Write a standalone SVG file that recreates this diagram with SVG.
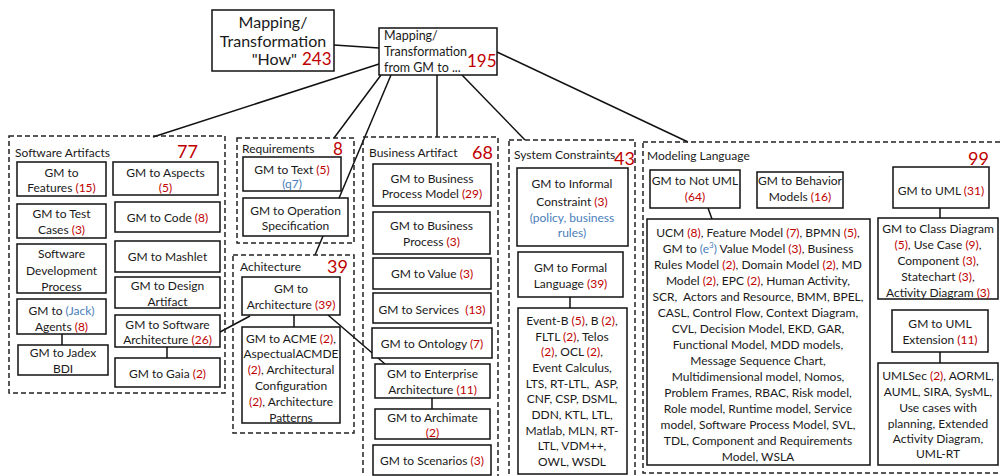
<svg xmlns="http://www.w3.org/2000/svg" width="1000" height="476" viewBox="0 0 1000 476">
<style>
.box{fill:#fff;stroke:#111;stroke-width:1.5}
.grp{fill:none;stroke:#222;stroke-width:1.5;stroke-dasharray:5 3}
text{font-family:Lato,"Open Sans","Liberation Sans",sans-serif;font-size:12px;fill:#1a1a1a}
.m{text-anchor:middle}
.r{fill:#c00000}
.b{fill:#4a7ebb}
.num{font-size:17px;fill:#c00000}
.big{font-size:16px}
.mid{font-size:12.5px}
.c{stroke:#111;stroke-width:1.5;fill:none}
</style>
<rect width="1000" height="476" fill="#fff"/>

<g id="connectors">
<line class="c" x1="334" y1="45" x2="379" y2="48"/>
<line class="c" x1="379" y1="64" x2="153" y2="137"/>
<line class="c" x1="381" y1="75" x2="334" y2="138"/>
<line class="c" x1="391" y1="75" x2="315" y2="255"/>
<line class="c" x1="437" y1="75" x2="437" y2="137"/>
<line class="c" x1="462" y1="75" x2="525" y2="140"/>
<line class="c" x1="497" y1="52" x2="688" y2="142"/>
<line class="c" x1="62" y1="334" x2="62" y2="345"/>
<line class="c" x1="167" y1="347" x2="167" y2="358"/>
<line class="c" x1="220" y1="332" x2="250" y2="316"/>
<line class="c" x1="294" y1="315" x2="294" y2="327"/>
<line class="c" x1="328" y1="315" x2="385" y2="364"/>
<line class="c" x1="432" y1="398" x2="432" y2="409"/>
<line class="c" x1="570" y1="297" x2="570" y2="308"/>
<line class="c" x1="708" y1="208" x2="712" y2="219"/>
<line class="c" x1="940" y1="208" x2="940" y2="218"/>
<line class="c" x1="940" y1="352" x2="940" y2="363"/>
</g>

<g id="root-how">
<rect class="box" x="212" y="10" width="122" height="61"/>
<text class="m big" x="273" y="28">Mapping/</text>
<text class="m big" x="273" y="47">Transformation</text>
<text class="big" x="297" y="65" text-anchor="end">"How"</text>
<text class="num" x="302" y="65">243</text>
</g>

<g id="root-from">
<rect class="box" x="379" y="28" width="118" height="47"/>
<text class="mid" x="384" y="40">Mapping/</text>
<text class="mid" x="384" y="56">Transformation</text>
<text class="mid" x="384" y="72">from GM to ...</text>
<text class="num" x="467" y="67">195</text>
</g>

<g id="software-artifacts">
<rect class="grp" x="9" y="136" width="216" height="257"/>
<text x="15" y="157">Software Artifacts</text>
<text class="num" x="177" y="158" style="font-size:18px">77</text>
</g>
<g id="sa-features"><rect class="box" x="17" y="162" width="89" height="34"/>
<text class="m" x="61.5" y="177">GM to</text><text class="m" x="61.5" y="192">Features <tspan class="r">(15)</tspan></text></g>
<g id="sa-aspects"><rect class="box" x="113" y="162" width="105" height="33"/>
<text class="m" x="165.5" y="177">GM to Aspects</text><text class="m r" x="165.5" y="192">(5)</text></g>
<g id="sa-testcases"><rect class="box" x="17" y="204" width="89" height="34"/>
<text class="m" x="61.5" y="218">GM to Test</text><text class="m" x="61.5" y="234">Cases <tspan class="r">(3)</tspan></text></g>
<g id="sa-code"><rect class="box" x="115" y="202" width="105" height="30"/>
<text class="m" x="167.5" y="222">GM to Code <tspan class="r">(8)</tspan></text></g>
<g id="sa-sdp"><rect class="box" x="17" y="244" width="89" height="49"/>
<text class="m" x="61.5" y="258">Software</text><text class="m" x="61.5" y="275">Development</text><text class="m" x="61.5" y="291">Process</text></g>
<g id="sa-mashlet"><rect class="box" x="115" y="241" width="105" height="31"/>
<text class="m" x="167.5" y="261">GM to Mashlet</text></g>
<g id="sa-agents"><rect class="box" x="17" y="299" width="89" height="35"/>
<text class="m" x="61.5" y="315">GM to <tspan class="b">(Jack)</tspan></text><text class="m" x="61.5" y="331">Agents <tspan class="r">(8)</tspan></text></g>
<g id="sa-jadex"><rect class="box" x="18" y="345" width="90" height="30"/>
<text class="m" x="63" y="357">GM to Jadex</text><text class="m" x="63" y="373">BDI</text></g>
<g id="sa-design"><rect class="box" x="115" y="277" width="105" height="31"/>
<text class="m" x="167.5" y="290">GM to Design</text><text class="m" x="167.5" y="306">Artifact</text></g>
<g id="sa-swarch"><rect class="box" x="115" y="315" width="105" height="32"/>
<text class="m" x="167.5" y="329">GM to Software</text><text class="m" x="167.5" y="344">Architecture <tspan class="r">(26)</tspan></text></g>
<g id="sa-gaia"><rect class="box" x="115" y="358" width="105" height="29"/>
<text class="m" x="167.5" y="378">GM to Gaia <tspan class="r">(2)</tspan></text></g>

<g id="requirements">
<rect class="grp" x="237" y="138" width="117" height="105"/>
<text x="242" y="153">Requirements</text>
<text class="num" x="333" y="155">8</text>
</g>
<g id="rq-text"><rect class="box" x="243" y="157" width="98" height="34"/>
<text class="m" x="292" y="174">GM to Text <tspan class="r">(5)</tspan></text><text class="m b" x="292" y="188">(q7)</text></g>
<g id="rq-opspec"><rect class="box" x="243" y="198" width="105" height="38"/>
<text class="m" x="295.5" y="215">GM to Operation</text><text class="m" x="295.5" y="230">Specification</text></g>

<g id="architecture">
<rect class="grp" x="233" y="255" width="121" height="178"/>
<text x="240" y="271">Achitecture</text>
<text class="num" x="327" y="273" style="font-size:18px">39</text>
</g>
<g id="ar-arch"><rect class="box" x="242" y="277" width="98" height="38"/>
<text class="m" x="291" y="293">GM to</text><text class="m" x="291" y="309">Architecture <tspan class="r">(39)</tspan></text></g>
<g id="ar-acme"><rect class="box" x="242" y="327" width="98" height="96"/>
<text class="m" x="291" y="343">GM to ACME <tspan class="r">(2)</tspan>,</text>
<text class="m" x="291" y="358">AspectualACMDE</text>
<text class="m" x="291" y="374"><tspan class="r">(2)</tspan>, Architectural</text>
<text class="m" x="291" y="390">Configuration</text>
<text class="m" x="291" y="406"><tspan class="r">(2)</tspan>, Architecture</text>
<text class="m" x="291" y="422">Patterns</text></g>

<g id="business-artifact">
<rect class="grp" x="363" y="137" width="135" height="345"/>
<text x="369" y="157">Business Artifact</text>
<text class="num" x="472" y="159" style="font-size:18px">68</text>
</g>
<g id="ba-bpm"><rect class="box" x="373" y="164" width="118" height="42"/>
<text class="m" x="432" y="183">GM to Business</text><text class="m" x="432" y="198">Process Model <tspan class="r">(29)</tspan></text></g>
<g id="ba-bp"><rect class="box" x="373" y="212" width="117" height="42"/>
<text class="m" x="431.5" y="230">GM to Business</text><text class="m" x="431.5" y="246">Process <tspan class="r">(3)</tspan></text></g>
<g id="ba-value"><rect class="box" x="373" y="258" width="118" height="31"/>
<text class="m" x="432" y="278">GM to Value <tspan class="r">(3)</tspan></text></g>
<g id="ba-services"><rect class="box" x="373" y="293" width="118" height="30"/>
<text class="m" x="432" y="314" xml:space="preserve">GM to Services  <tspan class="r">(13)</tspan></text></g>
<g id="ba-ontology"><rect class="box" x="372" y="328" width="120" height="30"/>
<text class="m" x="432" y="348">GM to Ontology <tspan class="r">(7)</tspan></text></g>
<g id="ba-enterprise"><rect class="box" x="375" y="364" width="115" height="34"/>
<text class="m" x="432.5" y="378">GM to Enterprise</text><text class="m" x="432.5" y="394">Architecture <tspan class="r">(11)</tspan></text></g>
<g id="ba-archimate"><rect class="box" x="375" y="409" width="115" height="30"/>
<text class="m" x="432.5" y="422">GM to Archimate</text><text class="m r" x="432.5" y="437">(2)</text></g>
<g id="ba-scenarios"><rect class="box" x="373" y="445" width="118" height="30"/>
<text class="m" x="432" y="465">GM to Scenarios <tspan class="r">(3)</tspan></text></g>

<g id="system-constraints">
<rect class="grp" x="509" y="140" width="126" height="345"/>
<text x="514" y="159">System Constraints</text>
<text class="num" x="614" y="165" style="font-size:18px">43</text>
</g>
<g id="sc-informal"><rect class="box" x="517" y="168" width="111" height="78"/>
<text class="m" x="572" y="188">GM to Informal</text>
<text class="m" x="572" y="206">Constraint <tspan class="r">(3)</tspan></text>
<text class="m b" x="572" y="222">(policy, business</text>
<text class="m b" x="572" y="237">rules)</text></g>
<g id="sc-formal"><rect class="box" x="518" y="252" width="105" height="45"/>
<text class="m" x="570.5" y="272">GM to Formal</text><text class="m" x="570.5" y="288">Language <tspan class="r">(39)</tspan></text></g>
<g id="sc-list"><rect class="box" x="518" y="308" width="109" height="166"/>
<text class="m" x="572" y="325">Event-B <tspan class="r">(5)</tspan>, B <tspan class="r">(2)</tspan>,</text>
<text class="m" x="572" y="341">FLTL <tspan class="r">(2)</tspan>, Telos</text>
<text class="m" x="572" y="356"><tspan class="r">(2)</tspan>, OCL <tspan class="r">(2)</tspan>,</text>
<text class="m" x="572" y="372">Event Calculus,</text>
<text class="m" x="572" y="388" xml:space="preserve">LTS, RT-LTL,  ASP,</text>
<text class="m" x="572" y="403">CNF, CSP, DSML,</text>
<text class="m" x="572" y="419">DDN, KTL, LTL,</text>
<text class="m" x="572" y="435">Matlab, MLN, RT-</text>
<text class="m" x="572" y="450">LTL, VDM++,</text>
<text class="m" x="572" y="466">OWL, WSDL</text></g>

<g id="modeling-language">
<rect class="grp" x="643" y="142" width="360" height="331"/>
<text x="647" y="160">Modeling Language</text>
<text class="num" x="968" y="165" style="font-size:18px">99</text>
</g>
<g id="ml-notuml"><rect class="box" x="650" y="170" width="90" height="38"/>
<text class="m" x="695" y="185">GM to Not UML</text><text class="m r" x="695" y="201">(64)</text></g>
<g id="ml-behavior"><rect class="box" x="757" y="172" width="86" height="36"/>
<text class="m" x="800" y="185">GM to Behavior</text><text class="m" x="800" y="201">Models <tspan class="r">(16)</tspan></text></g>
<g id="ml-list"><rect class="box" x="647" y="219" width="223" height="246"/>
<text class="m" x="758" y="237">UCM <tspan class="r">(8)</tspan>, Feature Model <tspan class="r">(7)</tspan>, BPMN <tspan class="r">(5)</tspan>,</text>
<text class="m" x="758" y="253">GM to <tspan class="b">(e<tspan font-size="8" dy="-5">3</tspan><tspan dy="5">)</tspan></tspan> Value Model <tspan class="r">(3)</tspan>, Business</text>
<text class="m" x="758" y="269">Rules Model <tspan class="r">(2)</tspan>, Domain Model <tspan class="r">(2)</tspan>, MD</text>
<text class="m" x="758" y="285">Model <tspan class="r">(2)</tspan>, EPC <tspan class="r">(2)</tspan>, Human Activity,</text>
<text class="m" x="758" y="301" xml:space="preserve">SCR,  Actors and Resource, BMM, BPEL,</text>
<text class="m" x="758" y="317">CASL, Control Flow, Context Diagram,</text>
<text class="m" x="758" y="333">CVL, Decision Model, EKD, GAR,</text>
<text class="m" x="758" y="349">Functional Model, MDD models,</text>
<text class="m" x="758" y="365">Message Sequence Chart,</text>
<text class="m" x="758" y="381">Multidimensional model, Nomos,</text>
<text class="m" x="758" y="397">Problem Frames, RBAC, Risk model,</text>
<text class="m" x="758" y="413">Role model, Runtime model, Service</text>
<text class="m" x="758" y="429">model, Software Process Model, SVL,</text>
<text class="m" x="758" y="445">TDL, Component and Requirements</text>
<text class="m" x="758" y="461">Model, WSLA</text></g>
<g id="ml-uml"><rect class="box" x="893" y="167" width="96" height="41"/>
<text class="m" x="941" y="195">GM to UML <tspan class="r">(31)</tspan></text></g>
<g id="ml-classdiag"><rect class="box" x="878" y="218" width="120" height="81"/>
<text class="m" x="938" y="233">GM to Class Diagram</text>
<text class="m" x="938" y="249"><tspan class="r">(5)</tspan>, Use Case <tspan class="r">(9)</tspan>,</text>
<text class="m" x="938" y="265">Component <tspan class="r">(3)</tspan>,</text>
<text class="m" x="938" y="281">Statechart <tspan class="r">(3)</tspan>,</text>
<text class="m" x="938" y="297">Activity Diagram <tspan class="r">(3)</tspan></text></g>
<g id="ml-umlext"><rect class="box" x="892" y="310" width="96" height="42"/>
<text class="m" x="940" y="328">GM to UML</text><text class="m" x="940" y="344">Extension <tspan class="r">(11)</tspan></text></g>
<g id="ml-umlsec"><rect class="box" x="878" y="363" width="120" height="102"/>
<text class="m" x="938" y="380">UMLSec <tspan class="r">(2)</tspan>, AORML,</text>
<text class="m" x="938" y="396">AUML, SIRA, SysML,</text>
<text class="m" x="938" y="412">Use cases with</text>
<text class="m" x="938" y="428">planning, Extended</text>
<text class="m" x="938" y="443">Activity Diagram,</text>
<text class="m" x="938" y="458">UML-RT</text></g>
</svg>
